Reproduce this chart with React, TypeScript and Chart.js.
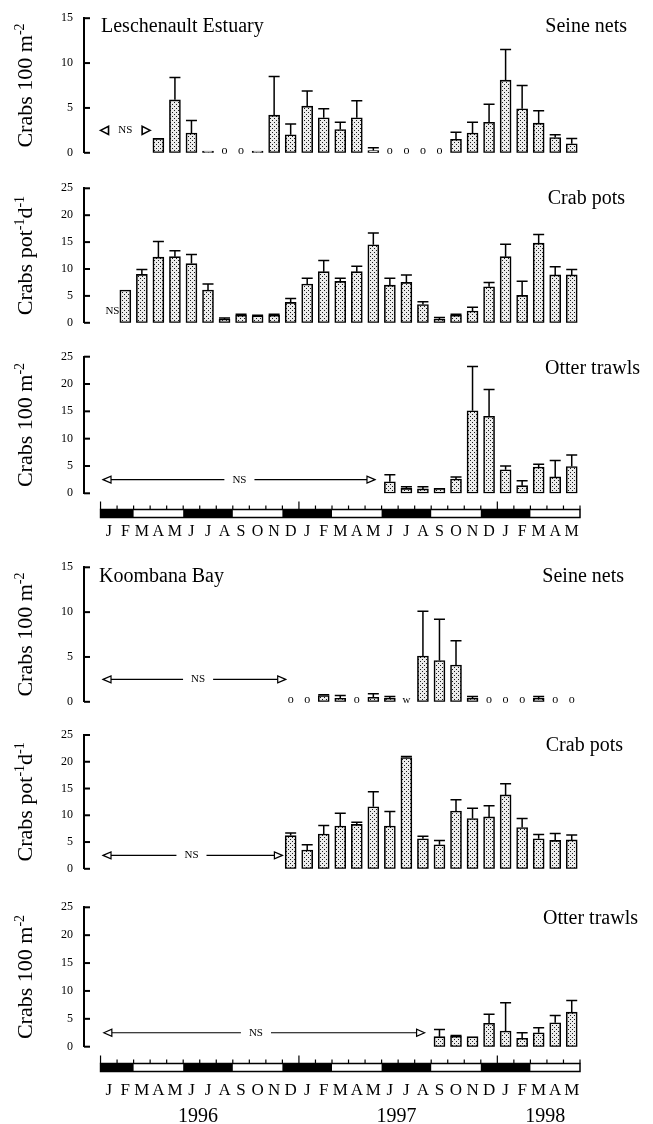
import React, { useEffect, useRef } from 'react';
import { Chart, registerables } from 'chart.js';

Chart.register(...registerables);

const FONT = '"Liberation Serif", "Times New Roman", serif';

// Months Jan 1996 .. May 1998
const months = ['J','F','M','A','M','J','J','A','S','O','N','D','J','F','M','A','M','J','J','A','S','O','N','D','J','F','M','A','M'];
const years = ['1996', '1997', '1998'];
const yearCentres = [5.9, 17.9, 26.9];
// 1 = summer / winter (dark band), 0 = autumn / spring
const darkSeason = [1,1,0,0,0,1,1,1,0,0,0,1,1,1,0,0,0,1,1,1,0,0,0,1,1,1,0,0,0];

const N = null;
// Leschenault Estuary — seine nets (crabs 100 m-2), null = not sampled, 0 = none caught
const lesSeineMean = [N,N,N,1.6,5.9,2.2,0.2,0,0,0.2,4.2,2.0, 5.2,3.9,2.6,3.9,0.25,0,0,0,0,1.5,2.2,3.4, 8.1,4.9,3.3,1.7,1.0];
const lesSeineSE   = [N,N,N,0,2.5,1.4,0,N,N,0,4.3,1.2, 1.7,1.0,0.8,1.9,0.3,N,N,N,N,0.8,1.2,2.0, 3.4,2.6,1.4,0.3,0.6];
// Leschenault Estuary — crab pots (crabs pot-1 d-1)
const lesPotsMean = [N,6.1,9.0,12.2,12.3,11.0,6.1,0.7,1.4,1.3,1.4,3.8, 7.2,9.5,7.7,9.5,14.5,7.0,7.5,3.4,0.7,1.4,2.2,6.7, 12.3,5.1,14.8,8.9,8.9];
const lesPotsSE   = [N,0,0.9,2.9,1.1,1.7,1.1,0.2,0.2,0.1,0.2,0.7, 1.1,2.1,0.6,1.0,2.2,1.3,1.4,0.5,0.3,0.2,0.7,0.8, 2.3,2.6,1.6,1.5,1.0];
// Leschenault Estuary — otter trawls
const lesTrawlMean = [N,N,N,N,N,N,N,N,N,N,N,N, N,N,N,N,N,2.1,0.9,0.8,0.9,2.6,15.1,14.1, 4.3,1.4,4.8,3.0,4.9];
const lesTrawlSE   = [N,N,N,N,N,N,N,N,N,N,N,N, N,N,N,N,N,1.3,0.3,0.4,0,0.4,8.1,4.9, 0.7,0.9,0.5,3.0,2.1];
// Koombana Bay — seine nets
const kooSeineMean = [N,N,N,N,N,N,N,N,N,N,N,0, 0,0.7,0.4,0,0.5,0.4,N,5.1,4.6,4.1,0.4,0, 0,0,0.4,0,0];
const kooSeineSE   = [N,N,N,N,N,N,N,N,N,N,N,N, N,0.1,0.3,N,0.4,0.2,N,5.0,4.6,2.7,0.2,N, N,N,0.2,N,N];
const kooSeineNotes: Record<number, string> = { 18: 'w' };
// Koombana Bay — crab pots
const kooPotsMean = [N,N,N,N,N,N,N,N,N,N,N,6.2, 3.5,6.5,8.0,8.3,11.6,8.0,20.8,5.6,4.5,10.8,9.4,9.7, 13.8,7.7,5.6,5.3,5.4];
const kooPotsSE   = [N,N,N,N,N,N,N,N,N,N,N,0.5, 1.0,1.6,2.4,0.4,2.8,2.7,0.2,0.5,0.8,2.1,1.9,2.1, 2.1,1.7,0.8,1.3,0.9];
// Koombana Bay — otter trawls
const kooTrawlMean = [N,N,N,N,N,N,N,N,N,N,N,N, N,N,N,N,N,N,N,N,1.8,1.9,1.8,4.2, 2.8,1.5,2.5,4.3,6.2];
const kooTrawlSE   = [N,N,N,N,N,N,N,N,N,N,N,N, N,N,N,N,N,N,N,N,1.3,0.1,0,1.6, 5.1,1.0,0.9,1.3,2.1];

type Part = { t: string; sup?: boolean };
const yTitleDensity: Part[] = [{ t: 'Crabs 100 m' }, { t: '-2', sup: true }];
const yTitlePots: Part[] = [{ t: 'Crabs pot' }, { t: '-1', sup: true }, { t: 'd' }, { t: '-1', sup: true }];

const panels: any[] = [
  { key: 'p1', areaTop: 17.5, areaBottom: 156.7, bottom: 171, max: 15, mean: lesSeineMean, se: lesSeineSE,
    yTitle: yTitleDensity, left: 'Leschenault Estuary', leftX: 101, right: 'Seine nets', rightX: 627, base: 32,
    ns: { kind: 'short', from: 0, to: 3.0, at: 1.5, v: 2.5 } },
  { key: 'p2', areaTop: 188.3, areaBottom: 326.7, bottom: 341, max: 25, mean: lesPotsMean, se: lesPotsSE,
    yTitle: yTitlePots, right: 'Crab pots', rightX: 625, base: 203.5,
    ns: { kind: 'text', at: 0.72, v: 2.2 } },
  { key: 'p3', areaTop: 356.7, areaBottom: 493.3, bottom: 545, max: 25, mean: lesTrawlMean, se: lesTrawlSE,
    yTitle: yTitleDensity, right: 'Otter trawls', rightX: 640, base: 373.5,
    ns: { kind: 'long', from: 0.15, to: 16.6, at: 8.4, v: 2.5 },
    band: { top: 509.5, labelSize: 16, labelPad: 28.5 } },
  { key: 'p4', areaTop: 567.3, areaBottom: 705, bottom: 720, max: 15, mean: kooSeineMean, se: kooSeineSE, notes: kooSeineNotes,
    yTitle: yTitleDensity, left: 'Koombana Bay', leftX: 99, right: 'Seine nets', rightX: 624, base: 582,
    ns: { kind: 'long', from: 0.15, to: 11.2, at: 5.9, v: 2.5 } },
  { key: 'p5', areaTop: 735, areaBottom: 872.7, bottom: 887, max: 25, mean: kooPotsMean, se: kooPotsSE,
    yTitle: yTitlePots, right: 'Crab pots', rightX: 623, base: 750.5,
    ns: { kind: 'long', from: 0.15, to: 11.0, at: 5.5, v: 2.5 } },
  { key: 'p6', areaTop: 907.3, areaBottom: 1046.7, bottom: 1124, max: 25, mean: kooTrawlMean, se: kooTrawlSE,
    yTitle: yTitleDensity, right: 'Otter trawls', rightX: 638, base: 923.5,
    ns: { kind: 'long', from: 0.2, to: 19.6, at: 9.4, v: 2.5 },
    band: { top: 1063.5, labelSize: 17, labelPad: 33.5 }, years: 1122 },
];

function geom(p: any) {
  const top = Math.max(0, Math.floor(p.areaTop) - 22);
  const h = p.bottom - top;
  const padTop = p.areaTop - top;
  const below = h - (p.areaBottom - top);
  return { top, h, padTop, below };
}

function makePattern() {
  const t = document.createElement('canvas');
  t.width = 4; t.height = 4;
  const c = t.getContext('2d')!;
  c.fillStyle = '#ececec';
  c.fillRect(0, 0, 4, 4);
  c.fillStyle = '#1a1a1a';
  c.fillRect(0, 0, 1, 1);
  c.fillRect(2, 2, 1, 1);
  return c.createPattern(t, 'repeat')!;
}

function drawRich(ctx: CanvasRenderingContext2D, parts: Part[], cx: number, cy: number) {
  const main = `22px ${FONT}`, sup = `14px ${FONT}`;
  const widths = parts.map(p => { ctx.font = p.sup ? sup : main; return ctx.measureText(p.t).width; });
  const total = widths.reduce((a, b) => a + b, 0);
  ctx.save();
  ctx.translate(cx, cy);
  ctx.rotate(-Math.PI / 2);
  ctx.textAlign = 'left';
  ctx.textBaseline = 'alphabetic';
  let x = -total / 2;
  parts.forEach((p, i) => {
    ctx.font = p.sup ? sup : main;
    ctx.fillText(p.t, x, p.sup ? -1 : 7);
    x += widths[i];
  });
  ctx.restore();
}

function head(ctx: CanvasRenderingContext2D, tip: number, y: number, dir: number, L = 8, H = 3.5) {
  ctx.beginPath();
  ctx.moveTo(tip, y);
  ctx.lineTo(tip - dir * L, y - H);
  ctx.lineTo(tip - dir * L, y + H);
  ctx.closePath();
  ctx.fillStyle = '#fff';
  ctx.fill();
  ctx.stroke();
  ctx.fillStyle = '#000';
}

function panelPlugin(p: any, g: any) {
  return {
    id: 'panelDecor',
    afterDatasetsDraw(chart: any) {
      const ctx: CanvasRenderingContext2D = chart.ctx;
      const area = chart.chartArea;
      const xs = chart.scales.x;
      const ys = chart.scales.y;
      const px = (pos: number) => xs.getPixelForValue(pos + 0.5);
      const cy = (pageY: number) => pageY - g.top;
      ctx.save();
      ctx.strokeStyle = '#000';
      ctx.fillStyle = '#000';

      // inward tick marks
      ctx.lineWidth = 2;
      ys.ticks.forEach((t: any) => {
        const yy = ys.getPixelForValue(t.value);
        ctx.beginPath();
        ctx.moveTo(area.left, yy);
        ctx.lineTo(area.left + 6, yy);
        ctx.stroke();
      });

      // error bars (upper SE)
      const meta = chart.getDatasetMeta(0);
      ctx.lineWidth = 1.5;
      p.mean.forEach((m: number | null, i: number) => {
        const se = p.se[i];
        if (m == null || m === 0 || se == null || se <= 0) return;
        const el: any = meta.data[i + 1];
        const bx = el.x, half = el.width / 2;
        const y0 = ys.getPixelForValue(m), y1 = ys.getPixelForValue(m + se);
        ctx.beginPath();
        ctx.moveTo(bx, y0); ctx.lineTo(bx, y1);
        ctx.moveTo(bx - half, y1); ctx.lineTo(bx + half, y1);
        ctx.stroke();
      });

      // zero catches and notes
      const zeroY = ys.getPixelForValue(0);
      ctx.textAlign = 'center';
      ctx.textBaseline = 'alphabetic';
      ctx.font = `12px ${FONT}`;
      p.mean.forEach((m: number | null, i: number) => {
        if (m === 0) ctx.fillText('o', px(i + 0.5), zeroY + 1.5);
      });
      if (p.notes) {
        ctx.font = `11px ${FONT}`;
        Object.keys(p.notes).forEach(k => ctx.fillText(p.notes[k], px(Number(k) + 0.5), zeroY + 1.5));
      }

      // not sampled
      const ns = p.ns;
      const ny = ys.getPixelForValue(ns.v);
      ctx.font = `11px ${FONT}`;
      ctx.textBaseline = 'middle';
      const tw = ctx.measureText('NS').width;
      const xa = px(ns.at);
      ctx.fillText('NS', xa, ny);
      if (ns.kind === 'short') {
        ctx.lineWidth = 1.6;
        head(ctx, px(ns.from), ny, -1, 8, 4);
        head(ctx, px(ns.to), ny, 1, 8, 4);
      } else if (ns.kind === 'long') {
        ctx.lineWidth = 1.2;
        const a = px(ns.from), b = px(ns.to);
        ctx.beginPath();
        ctx.moveTo(a + 8, ny); ctx.lineTo(xa - tw / 2 - 8, ny);
        ctx.moveTo(xa + tw / 2 + 8, ny); ctx.lineTo(b - 8, ny);
        ctx.stroke();
        head(ctx, a, ny, -1);
        head(ctx, b, ny, 1);
      }

      // titles
      ctx.textBaseline = 'alphabetic';
      ctx.font = `20px ${FONT}`;
      if (p.left) { ctx.textAlign = 'left'; ctx.fillText(p.left, p.leftX, cy(p.base)); }
      ctx.textAlign = 'right';
      ctx.fillText(p.right, p.rightX, cy(p.base));

      // y-axis title
      drawRich(ctx, p.yTitle, 25, (area.top + area.bottom) / 2);

      // season band
      if (p.band) {
        const bt = cy(p.band.top), bh = 8;
        let i = 0;
        while (i < darkSeason.length) {
          if (darkSeason[i]) {
            let j = i;
            while (j < darkSeason.length && darkSeason[j]) j++;
            ctx.fillRect(px(i), bt, px(j) - px(i), bh);
            i = j;
          } else i++;
        }
        ctx.lineWidth = 1.5;
        ctx.strokeRect(px(0), bt, px(29) - px(0), bh);
        ctx.lineWidth = 1.2;
        for (let b = 0; b <= 29; b++) {
          const xx = px(b);
          const len = b % 12 === 0 ? 8 : 4;
          ctx.beginPath();
          ctx.moveTo(xx, bt);
          ctx.lineTo(xx, bt - len);
          ctx.stroke();
        }
      }
      if (p.years) {
        ctx.font = `20px ${FONT}`;
        ctx.textAlign = 'center';
        years.forEach((y, k) => ctx.fillText(y, px(yearCentres[k]), cy(p.years)));
      }
      ctx.restore();
    },
  };
}

function buildConfig(p: any, g: any, pattern: CanvasPattern): any {
  const hasAxis = !!p.band;
  return {
    type: 'bar',
    data: {
      labels: ['', ...months],
      datasets: [{
        data: [null, ...p.mean.map((v: number | null) => (v === 0 ? null : v))],
        backgroundColor: pattern,
        borderColor: '#000',
        borderWidth: 1.6,
        borderSkipped: false,
        barThickness: 11,
      }],
    },
    options: {
      responsive: false,
      maintainAspectRatio: false,
      animation: false,
      events: [],
      layout: { padding: { left: 0, right: 73, top: g.padTop, bottom: hasAxis ? 0 : g.below } },
      plugins: { legend: { display: false }, tooltip: { enabled: false }, title: { display: false } },
      scales: {
        x: {
          type: 'category',
          offset: true,
          display: hasAxis,
          grid: { display: false, drawTicks: false, tickLength: 0 },
          border: { display: false },
          ticks: {
            autoSkip: false, maxRotation: 0, minRotation: 0, color: '#000',
            font: { family: FONT, size: hasAxis ? p.band.labelSize : 16 },
            padding: hasAxis ? p.band.labelPad : 0,
          },
          afterFit: (s: any) => { if (hasAxis) s.height = g.below; },
        },
        y: {
          min: 0, max: p.max,
          ticks: { stepSize: 5, color: '#000', font: { family: FONT, size: 12 }, padding: 11 },
          grid: { display: false, drawTicks: false, tickLength: 0 },
          border: { display: true, color: '#000', width: 2 },
          afterFit: (s: any) => { s.width = 84; },
        },
      },
    },
    plugins: [panelPlugin(p, g)],
  };
}

export default function App() {
  const refs = useRef<(HTMLCanvasElement | null)[]>([]);
  useEffect(() => {
    const pattern = makePattern();
    const charts = panels.map((p, i) => new Chart(refs.current[i]!, buildConfig(p, geom(p), pattern)));
    return () => charts.forEach(c => c.destroy());
  }, []);
  return (
    <div style={{ position: 'absolute', left: 0, top: 0, width: 653, height: 1124, overflow: 'hidden', background: '#fff' }}>
      {panels.map((p, i) => {
        const g = geom(p);
        return (
          <canvas
            key={p.key}
            ref={el => { refs.current[i] = el; }}
            width={653}
            height={g.h}
            style={{ position: 'absolute', left: 0, top: g.top, display: 'block' }}
          />
        );
      })}
    </div>
  );
}
